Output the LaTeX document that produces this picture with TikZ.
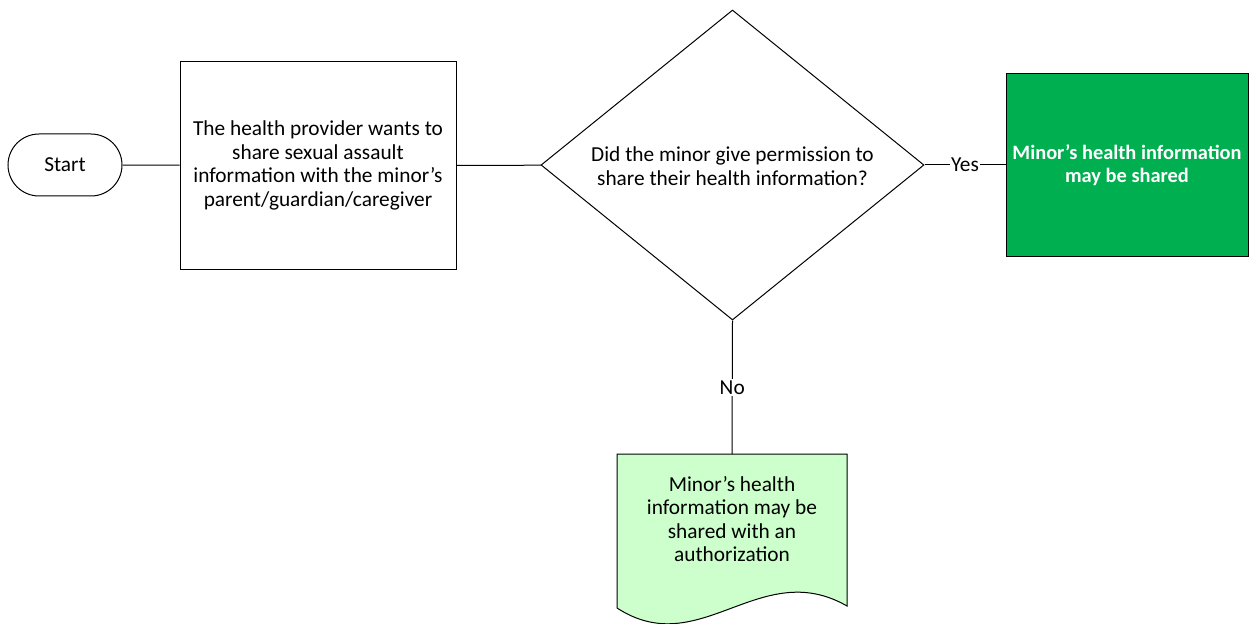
\documentclass[tikz,border=0pt]{standalone}
\usepackage{fontspec}
\setmainfont{Carlito}
\usetikzlibrary{shapes.geometric}
\definecolor{okgreen}{HTML}{00B050}
\definecolor{palegreen}{HTML}{CCFFCC}
\begin{document}
\begin{tikzpicture}[x=0.75pt,y=-0.75pt,
  every node/.style={font=\fontsize{16}{17.7}\selectfont, align=center, inner sep=0pt},
  line/.style={draw=black, line width=0.75pt},
  terminal/.style={line, rounded corners=23.25pt, minimum width=85.5pt, minimum height=46.5pt},
  process/.style={line, minimum width=207pt, minimum height=155.25pt},
  decision/.style={line, diamond, minimum width=287.25pt, minimum height=232.5pt},
  outcome/.style={line, fill=okgreen, text=white, font=\fontsize{15.3}{17.7}\selectfont\bfseries, minimum width=181.5pt, minimum height=136.5pt},
  lbl/.style={fill=white, inner sep=1pt}
]
\useasboundingbox (0,0) rectangle (1249,624);

\node[terminal] (start) at (65,165) {Start};
\node[process] (want) at (318,165.5) {The health provider wants to\\share sexual assault\\information with the minor’s\\parent/guardian/caregiver};
\node[decision] (ask) at (732.5,165) {};
\node at (732.5,166) {Did the minor give permission to\\share their health information?};
\node[outcome] (yes) at (1127,165) {Minor’s health information\\may be shared};

% document shape with wavy bottom edge
\coordinate (doctop) at (732,454);
\draw[line, fill=palegreen] (617,454) -- (847,454) -- (847,606)
  .. controls (760,556) and (700,662) .. (617,608) -- cycle;
\node (doc) at (732,519) {Minor’s health\\information may be\\shared with an\\authorization};

\draw[line] (start) -- (want);
\draw[line] (want) -- (ask);
\draw[line] (ask.east) -- node[lbl] {Yes} (yes.west |- ask.east);
\draw[line] (ask.south) -- node[lbl] {No} (doctop);
\end{tikzpicture}
\end{document}
